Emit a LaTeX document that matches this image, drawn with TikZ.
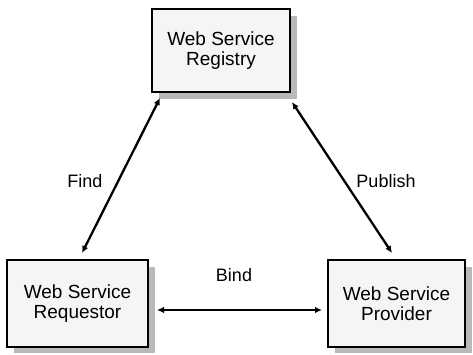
\documentclass[tikz,border=0pt]{standalone}
\usepackage{fontspec}
\setmainfont{Liberation Sans}
\usetikzlibrary{arrows.meta}
\begin{document}
\begin{tikzpicture}[x=1pt,y=-1pt,
  wsbox/.style={draw=black, line width=1.5pt, fill=gray!8, align=center,
    font=\fontsize{19}{20.5}\selectfont, inner sep=0pt},
  shad/.style={fill=gray!55},
  conn/.style={line width=2.3pt, {Latex[length=7pt,width=6.5pt]}-{Latex[length=7pt,width=6.5pt]}},
  lbl/.style={font=\fontsize{18}{20}\selectfont}]
\useasboundingbox (0,0) rectangle (473,355);
% shadows
\fill[shad] (159,16) rectangle (297,99);
\fill[shad] (14,267) rectangle (155,353);
\fill[shad] (335,267) rectangle (472,353);
\node[wsbox, minimum width=138pt, minimum height=83pt] (reg) at (221,50.5) {Web Service\\Registry};
\node[wsbox, minimum width=141pt, minimum height=87pt] (req) at (77.5,303.5) {Web Service\\Requestor};
\node[wsbox, minimum width=137pt, minimum height=87pt] (prov) at (396.5,303.5) {Web Service\\Provider};
\coordinate (f1) at (160,98);
\coordinate (f2) at (82,253);
\coordinate (p1) at (292,102);
\coordinate (p2) at (392,253);
\coordinate (b1) at (157,310);
\coordinate (b2) at (322,310);
\draw[conn] (f1) -- (f2);
\draw[conn] (p1) -- (p2);
\draw[conn] (b1) -- (b2);
\node[lbl] (find) at (85,181) {Find};
\node[lbl] (pub) at (386,181) {Publish};
\node[lbl] (bind) at (234,275) {Bind};
\end{tikzpicture}
\end{document}
